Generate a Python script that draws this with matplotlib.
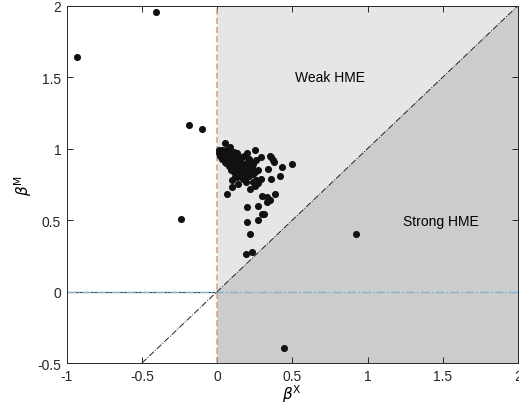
import numpy as np
import matplotlib
matplotlib.use("Agg")
import matplotlib.pyplot as plt

plt.rcParams['font.family'] = ['Liberation Sans', 'DejaVu Sans']
plt.rcParams['mathtext.fontset'] = 'dejavusans'

# estimated scatter points (beta_X, beta_M)
beta_x = [
    # outliers
    -0.93, -0.405, -0.19, -0.10, -0.24, 0.445, 0.92, 0.19, 0.23,
    # top row of the cluster
    0.01, 0.02, 0.03, 0.04, 0.05, 0.06, 0.07, 0.08, 0.09, 0.10, 0.11, 0.12, 0.053, 0.086, 0.13,
    # second row
    0.02, 0.04, 0.06, 0.08, 0.10, 0.12, 0.14, 0.16, 0.15, 0.18, 0.20, 0.21, 0.03, 0.07,
    # third row
    0.05, 0.07, 0.09, 0.11, 0.13, 0.15, 0.17, 0.19, 0.22, 0.24, 0.26, 0.12, 0.14, 0.08,
    # fourth row
    0.09, 0.11, 0.13, 0.16, 0.18, 0.20, 0.22, 0.24, 0.27, 0.19, 0.21, 0.17, 0.15,
    # extra fill of the dense core
    0.015, 0.025, 0.035, 0.045, 0.055, 0.065, 0.075, 0.085, 0.095, 0.105, 0.115,
    0.03, 0.05, 0.07, 0.09, 0.11, 0.13, 0.06, 0.08, 0.10, 0.12, 0.14, 0.16,
    0.10, 0.12, 0.14, 0.16, 0.18, 0.13, 0.15, 0.17, 0.19, 0.23, 0.25,
    # scattered tail
    0.25, 0.29, 0.36, 0.375, 0.43, 0.50, 0.34, 0.42, 0.36, 0.29, 0.24, 0.26,
    0.10, 0.12, 0.19, 0.10, 0.065, 0.22, 0.25, 0.27, 0.385, 0.35, 0.33, 0.30,
    0.20, 0.27, 0.31, 0.20, 0.275, 0.22, 0.37, 0.35, 0.30, 0.33, 0.14, 0.23,
]
beta_m = [
    1.64, 1.956, 1.165, 1.14, 0.51, -0.396, 0.40, 0.26, 0.28,
    0.99, 0.98, 0.99, 0.97, 0.98, 0.99, 0.97, 0.98, 0.96, 0.97, 0.98, 0.96, 1.04, 1.01, 0.97,
    0.95, 0.94, 0.95, 0.93, 0.94, 0.93, 0.95, 0.94, 0.92, 0.95, 0.97, 0.93, 0.96, 0.96,
    0.91, 0.89, 0.90, 0.91, 0.89, 0.90, 0.88, 0.90, 0.91, 0.89, 0.92, 0.87, 0.86, 0.92,
    0.85, 0.84, 0.82, 0.85, 0.83, 0.86, 0.84, 0.82, 0.85, 0.80, 0.81, 0.79, 0.83,
    0.97, 0.96, 0.97, 0.95, 0.96, 0.93, 0.94, 0.95, 0.92, 0.95, 0.93,
    0.93, 0.92, 0.93, 0.92, 0.92, 0.91, 0.90, 0.88, 0.89, 0.88, 0.88, 0.87,
    0.87, 0.85, 0.84, 0.82, 0.86, 0.80, 0.81, 0.84, 0.87, 0.86, 0.84,
    0.99, 0.94, 0.94, 0.91, 0.87, 0.89, 0.86, 0.81, 0.79, 0.79, 0.77, 0.78,
    0.78, 0.80, 0.77, 0.73, 0.68, 0.72, 0.74, 0.76, 0.68, 0.64, 0.66, 0.67,
    0.59, 0.60, 0.54, 0.49, 0.50, 0.40, 0.92, 0.95, 0.54, 0.63, 0.75, 0.87,
]

xmin, xmax = -1, 2
ymin, ymax = -0.5, 2

fig = plt.figure(figsize=(5.19, 4.10), dpi=100)
ax = fig.add_axes([0.1285, 0.112, 0.8695, 0.8717])

# shaded regions
ax.fill([0, xmax, 0], [0, ymax, ymax], color='#e6e6e6', lw=0, zorder=0)
ax.fill([0, xmax, xmax, 0], [ymin, ymin, ymax, 0], color='#cccccc', lw=0, zorder=0)

# reference lines
ax.plot([xmin, 0], [0, 0], color='#2f3f4a', lw=0.8, zorder=1)
ax.plot([xmin, xmax], [0, 0], color='#7fb3cf', lw=1.0, ls='-.', zorder=2)
ax.plot([0, 0], [ymin, ymax], color='#d99c7e', lw=1.1, ls='--', dashes=(4, 2), zorder=2)
ax.plot([-0.5, xmax], [-0.5, ymax], color='#222222', lw=0.7, ls='-.', zorder=2)

ax.scatter(beta_x, beta_m, s=26, color='#111111', zorder=3, linewidths=0)

ax.text(0.75, 1.5, 'Weak HME', ha='center', va='center', fontsize=10)
ax.text(1.49, 0.495, 'Strong HME', ha='center', va='center', fontsize=10)

ax.set_xlim(xmin, xmax)
ax.set_ylim(ymin, ymax)
ax.set_xticks([-1, -0.5, 0, 0.5, 1, 1.5, 2])
ax.set_xticklabels(['-1', '-0.5', '0', '0.5', '1', '1.5', '2'])
ax.set_yticks([-0.5, 0, 0.5, 1, 1.5, 2])
ax.set_yticklabels(['-0.5', '0', '0.5', '1', '1.5', '2'])
ax.tick_params(direction='in', length=4, width=0.7, top=True, right=True,
               labelsize=10, colors='#262626', pad=4)
for sp in ax.spines.values():
    sp.set_color('#262626')
    sp.set_linewidth(0.7)

ax.set_xlabel(r'$\beta^{\mathrm{X}}$', fontsize=11, labelpad=0)
ax.set_ylabel(r'$\beta^{\mathrm{M}}$', fontsize=11, labelpad=2)

fig.savefig('out.png', dpi=100)
